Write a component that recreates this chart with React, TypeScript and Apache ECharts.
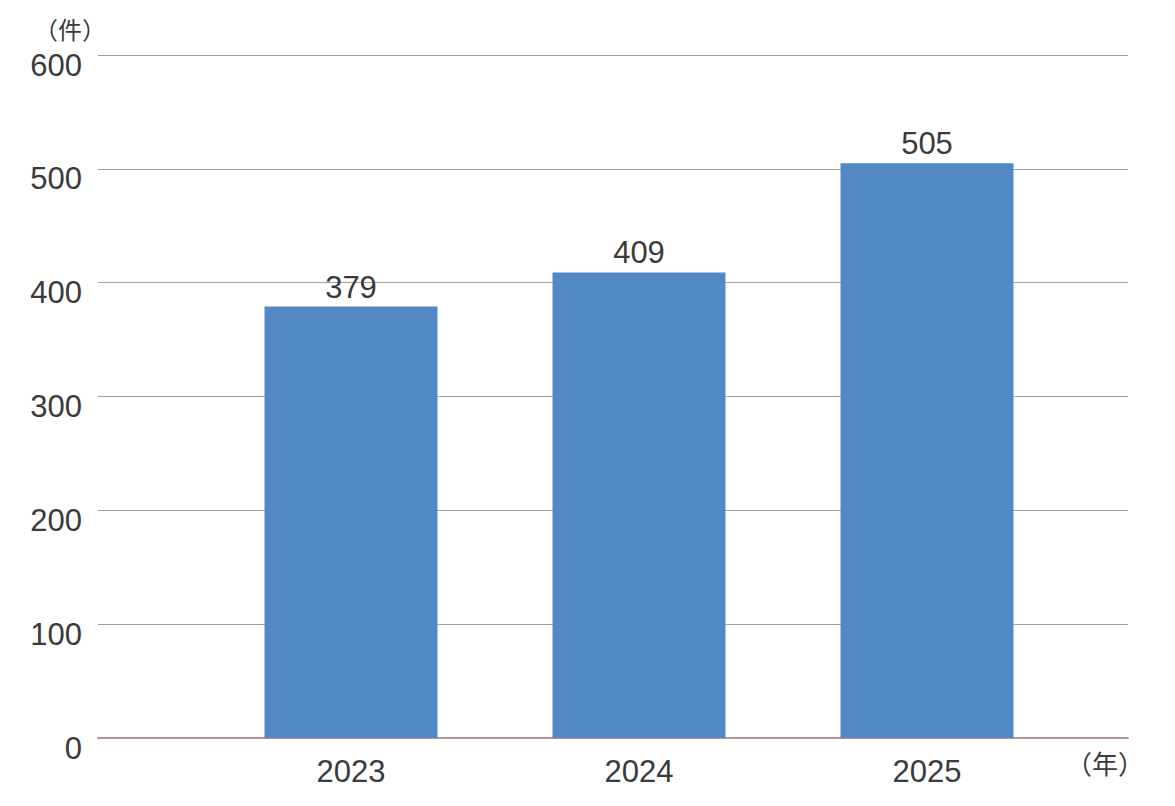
import { useEffect, useRef } from 'react';
import * as echarts from 'echarts';
import type { EChartsOption } from 'echarts';

const years = ['2023', '2024', '2025'];
const counts = [379, 409, 505];
const yTicks = { min: 0, max: 600, interval: 100 };
const yUnit = '（件）';
const xUnit = '（年）';

const FONT = '"Liberation Sans", Arial, Helvetica, sans-serif';
const CJK = '"Noto Sans CJK JP", "Noto Sans", sans-serif';

export default function App() {
  const chartRef = useRef<HTMLDivElement>(null);

  useEffect(() => {
    if (!chartRef.current) return;
    const chart = echarts.init(chartRef.current, null, { renderer: 'svg' });

    const option: EChartsOption = {
      animation: false,
      backgroundColor: '#ffffff',
      grid: [
        { left: 98, right: 47, top: 55, bottom: 68 },
        { left: 207, right: 104, top: 55, bottom: 68 },
      ],
      xAxis: [
        {
          gridIndex: 0,
          type: 'value',
          min: 0,
          max: 1,
          axisLine: { show: true, lineStyle: { color: '#b89293', width: 2 } },
          axisTick: { show: false },
          axisLabel: { show: false },
          splitLine: { show: false },
        },
        {
          gridIndex: 1,
          type: 'category',
          data: years,
          axisLine: { show: false },
          axisTick: { show: false },
          axisLabel: {
            color: '#3a3a3a',
            fontSize: 31,
            fontFamily: FONT,
            margin: 18,
          },
        },
      ],
      yAxis: [
        {
          gridIndex: 0,
          type: 'value',
          min: yTicks.min,
          max: yTicks.max,
          interval: yTicks.interval,
          axisLine: { show: false },
          axisTick: { show: false },
          axisLabel: {
            color: '#3a3a3a',
            fontSize: 31,
            fontFamily: FONT,
            margin: 16,
            verticalAlign: 'top',
            lineHeight: 20,
          },
          splitLine: { lineStyle: { color: '#a99c9d', width: 1 } },
        },
        {
          gridIndex: 1,
          type: 'value',
          min: yTicks.min,
          max: yTicks.max,
          interval: yTicks.interval,
          show: false,
        },
      ],
      graphic: [
        {
          type: 'text',
          left: 34,
          top: 16,
          style: { text: yUnit, fill: '#3a3a3a', fontSize: 24, fontFamily: CJK },
        },
        {
          type: 'text',
          left: 1066,
          top: 749,
          style: { text: xUnit, fill: '#3a3a3a', fontSize: 26, fontFamily: CJK },
        },
      ],
      series: [
        {
          type: 'bar',
          xAxisIndex: 1,
          yAxisIndex: 1,
          data: counts,
          barWidth: 173,
          itemStyle: { color: '#5388c7' },
          label: {
            show: true,
            position: 'top',
            distance: 4,
            color: '#3a3a3a',
            fontSize: 31,
            fontFamily: FONT,
          },
        },
      ],
    };

    chart.setOption(option);
    const onResize = () => chart.resize();
    window.addEventListener('resize', onResize);
    return () => {
      window.removeEventListener('resize', onResize);
      chart.dispose();
    };
  }, []);

  return (
    <div
      ref={chartRef}
      style={{ position: 'fixed', left: 0, top: 0, width: 1175, height: 806 }}
    />
  );
}
